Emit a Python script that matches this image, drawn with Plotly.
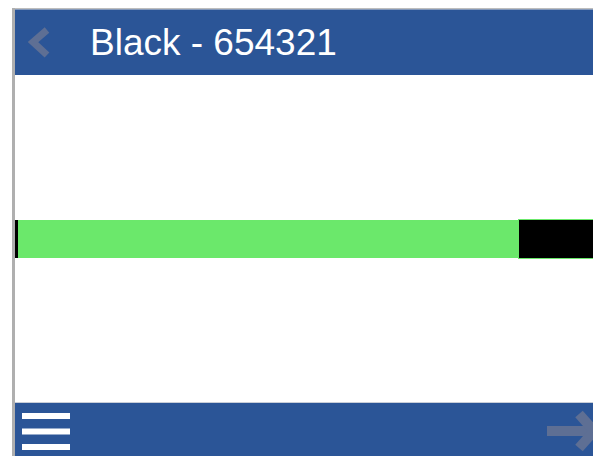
import plotly.graph_objects as go

# Data
category = ["Black - 654321"]
segment_names = ["start", "progress", "remaining"]
segment_values = [0.5, 85.5, 20.0]
segment_colors = ["#000000", "#6BE86B", "#000000"]
title_text = "Black - 654321"

OFF = 8  # default page body margin
W, H = 601, 456
BLUE = "#2B5597"
ICON = "#5E6F94"

def px(x):
    return (x - OFF) / W

def py(y):
    return 1 - (y - OFF) / H

fig = go.Figure()
for name, val, col in zip(segment_names, segment_values, segment_colors):
    fig.add_trace(go.Bar(
        y=category, x=[val], orientation="h", name=name,
        marker=dict(color=col, line=dict(width=1 if name == "remaining" else 0, color="#6BE86B")),
        width=0.116, hoverinfo="skip",
    ))

shapes = []
shapes.append(dict(type="rect", xref="paper", yref="paper", x0=px(12), x1=1, y0=py(9.5), y1=1,
                   fillcolor="#BDBDBD", line=dict(width=0), layer="above"))
shapes.append(dict(type="rect", xref="paper", yref="paper", x0=px(12), x1=px(15), y0=0, y1=1,
                   fillcolor="#AFAFAF", line=dict(width=0), layer="above"))
shapes.append(dict(type="rect", xref="paper", yref="paper", x0=px(15), x1=1, y0=py(75), y1=py(9.5),
                   fillcolor=BLUE, line=dict(width=0), layer="above"))
shapes.append(dict(type="rect", xref="paper", yref="paper", x0=px(15), x1=1, y0=0, y1=py(402),
                   fillcolor="#C9CED8", line=dict(width=0), layer="above"))
shapes.append(dict(type="rect", xref="paper", yref="paper", x0=px(15), x1=1, y0=0, y1=py(403),
                   fillcolor=BLUE, line=dict(width=0), layer="above"))
for yc in [416, 431.5, 447]:
    shapes.append(dict(type="rect", xref="paper", yref="paper", x0=px(22), x1=px(70),
                       y0=py(yc + 3), y1=py(yc - 3), fillcolor="white", line=dict(width=0), layer="above"))
shapes.append(dict(type="path", xref="paper", yref="paper",
                   path=f"M {px(47)} {py(30)} L {px(33)} {py(42)} L {px(47)} {py(55)}",
                   line=dict(color=ICON, width=7), layer="above"))
shapes.append(dict(type="path", xref="paper", yref="paper",
                   path=f"M {px(547)} {py(431)} L {px(592)} {py(431)}",
                   line=dict(color=ICON, width=10), layer="above"))
shapes.append(dict(type="path", xref="paper", yref="paper",
                   path=f"M {px(579)} {py(414)} L {px(594)} {py(431)} L {px(579)} {py(448)}",
                   line=dict(color=ICON, width=10), layer="above"))

fig.update_layout(
    width=W, height=H,
    margin=dict(l=0, r=0, t=0, b=0),
    paper_bgcolor="white", plot_bgcolor="white",
    barmode="stack", showlegend=False,
    xaxis=dict(domain=[px(15), 1], range=[0, 100 * (W + OFF - 15) / 586], visible=False, fixedrange=True),
    yaxis=dict(domain=[py(403), py(75)], range=[-0.5, 0.5], visible=False, fixedrange=True),
    shapes=shapes,
    annotations=[dict(text=title_text, xref="paper", yref="paper", x=px(88), y=py(42),
                      xanchor="left", yanchor="middle", showarrow=False,
                      font=dict(family="Liberation Sans, Arial", size=37, color="white"))],
)

fig.write_html("out.html")
